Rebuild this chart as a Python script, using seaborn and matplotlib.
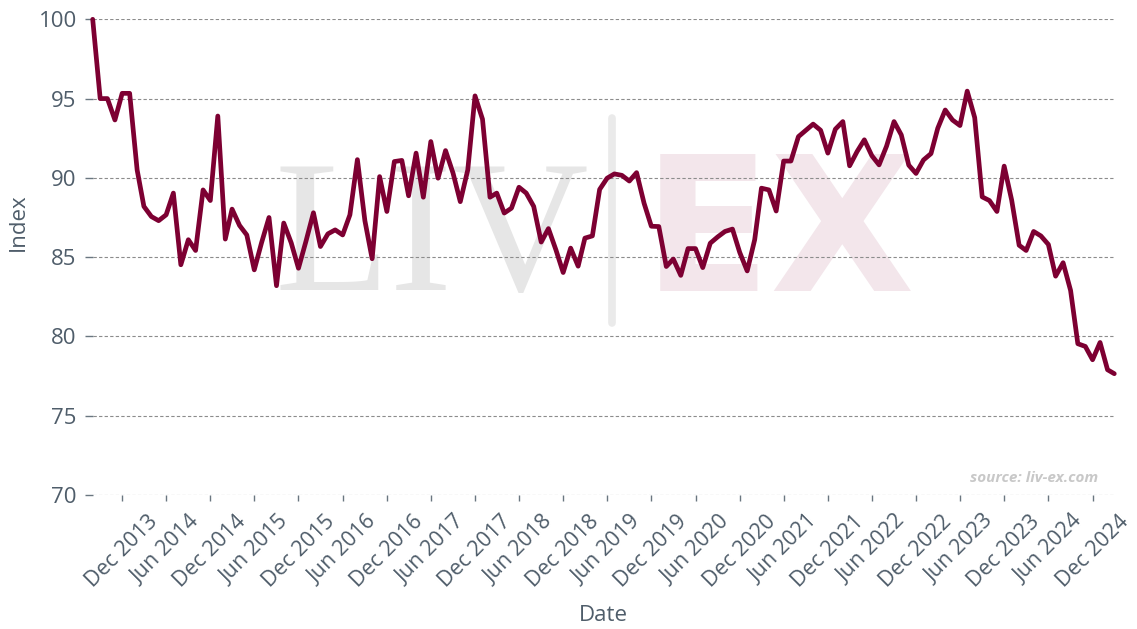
import matplotlib
matplotlib.use("Agg")
import matplotlib.pyplot as plt
from matplotlib.lines import Line2D
import pandas as pd
import seaborn as sns

# ---- data -------------------------------------------------------------
start_month = "2013-08-01"
index_values = [
    100.0, 95.0, 95.0, 93.65, 95.33, 95.33, 90.5, 88.2, 87.56, 87.3,
    87.67, 89.04, 84.52, 86.1, 85.42, 89.24, 88.57, 93.9, 86.14, 88.03,
    87.0, 86.4, 84.2, 85.9, 87.5, 83.2, 87.15, 85.9, 84.3, 86.0,
    87.8, 85.67, 86.47, 86.72, 86.4, 87.67, 91.15, 87.3, 84.9, 90.08,
    87.88, 91.03, 91.1, 88.87, 91.56, 88.78, 92.29, 89.98, 91.72, 90.3,
    88.5, 90.5, 95.17, 93.7, 88.78, 89.04, 87.78, 88.09, 89.41, 89.04,
    88.2, 85.95, 86.8, 85.46, 84.03, 85.57, 84.43, 86.2, 86.34, 89.27,
    89.98, 90.25, 90.16, 89.8, 90.33, 88.4, 86.95, 86.93, 84.41, 84.88,
    83.85, 85.54, 85.54, 84.34, 85.88, 86.28, 86.62, 86.77, 85.3, 84.13,
    86.1, 89.35, 89.24, 87.91, 91.06, 91.06, 92.6, 93.0, 93.39, 93.0,
    91.56, 93.07, 93.55, 90.76, 91.66, 92.4, 91.4, 90.82, 92.0, 93.55,
    92.71, 90.8, 90.28, 91.13, 91.53, 93.13, 94.28, 93.65, 93.3, 95.47,
    93.8, 88.8, 88.57, 87.88, 90.74, 88.6, 85.75, 85.42, 86.62, 86.34,
    85.8, 83.8, 84.65, 82.9, 79.54, 79.37, 78.53, 79.62, 77.9, 77.65,
]
tick_labels = [
    "Dec 2013", "Jun 2014", "Dec 2014", "Jun 2015", "Dec 2015", "Jun 2016",
    "Dec 2016", "Jun 2017", "Dec 2017", "Jun 2018", "Dec 2018", "Jun 2019",
    "Dec 2019", "Jun 2020", "Dec 2020", "Jun 2021", "Dec 2021", "Jun 2022",
    "Dec 2022", "Jun 2023", "Dec 2023", "Jun 2024", "Dec 2024",
]
y_ticks = [70, 75, 80, 85, 90, 95, 100]

dates = pd.date_range(start_month, periods=len(index_values), freq="MS")
df = pd.DataFrame({"Date": dates, "Index": index_values})
tick_dates = pd.to_datetime(tick_labels, format="%b %Y")

# ---- style ------------------------------------------------------------
sns.set_theme(style="white")
plt.rcParams["font.family"] = ["Open Sans", "DejaVu Sans"]

TEXT = "#4f5d6a"
LINE = "#7d0032"
W, H = 1137, 629

fig = plt.figure(figsize=(W / 100, H / 100), dpi=100)
ax = fig.add_axes([92.7 / W, 1 - 495 / H, (1114.3 - 92.7) / W, (495 - 19.3) / H])
ax.set_facecolor("none")

sns.lineplot(data=df, x="Date", y="Index", ax=ax, color=LINE, linewidth=3.4)
for ln in ax.lines:
    ln.set_clip_on(False)
    ln.set_solid_joinstyle("round")
    ln.set_zorder(3)

ax.set_xlim(dates[0], dates[-1])
ax.set_ylim(70, 100)
ax.set_yticks(y_ticks)
ax.set_yticklabels([str(v) for v in y_ticks])
ax.set_xticks(tick_dates)
ax.set_xticklabels(tick_labels, rotation=45, ha="center")

for s in ax.spines.values():
    s.set_visible(False)

ax.yaxis.grid(True, linestyle=(0, (3, 2)), color="#8c8c8c", linewidth=0.8)
ax.xaxis.grid(False)
ax.set_axisbelow(True)

ax.tick_params(axis="y", left=True, length=5.5, width=1.0, color="#6a7680",
               pad=6, labelsize=16, labelcolor=TEXT)
ax.tick_params(axis="x", bottom=True, length=4.5, width=1.0, color="#6a7680",
               pad=7, labelsize=15.5, labelcolor=TEXT)

ax.set_ylabel("Index", fontsize=16, color=TEXT, va="center")
ax.yaxis.set_label_coords(-0.0728, 0.574)
ax.set_xlabel("Date", fontsize=16, color=TEXT, va="center")
ax.xaxis.set_label_coords(0.5, -0.2523)

# ---- watermark --------------------------------------------------------
ax.text(432 / W, 1 - 290 / H, "LIV", transform=fig.transFigure, ha="center",
        va="baseline", fontsize=136, family=["Liberation Serif"],
        color="#e6e6e6", zorder=0.1, clip_on=False)
ax.add_line(Line2D([612 / W, 612 / W], [1 - 118 / H, 1 - 323 / H],
                   transform=fig.transFigure, lw=5.5, color="#eaeaea",
                   zorder=0.1, clip_on=False))
ax.text(779 / W, 1 - 291 / H, "EX", transform=fig.transFigure, ha="center",
        va="baseline", fontsize=135, family=["DejaVu Sans"], weight="bold",
        color="#f3e6eb", zorder=0.1, clip_on=False)

fig.text(1098 / W, 1 - 478 / H, "source: liv-ex.com", ha="right", va="center",
         fontsize=11, color="#c8c8c8", style="italic", weight="bold")

fig.savefig("out.png", dpi=100)
